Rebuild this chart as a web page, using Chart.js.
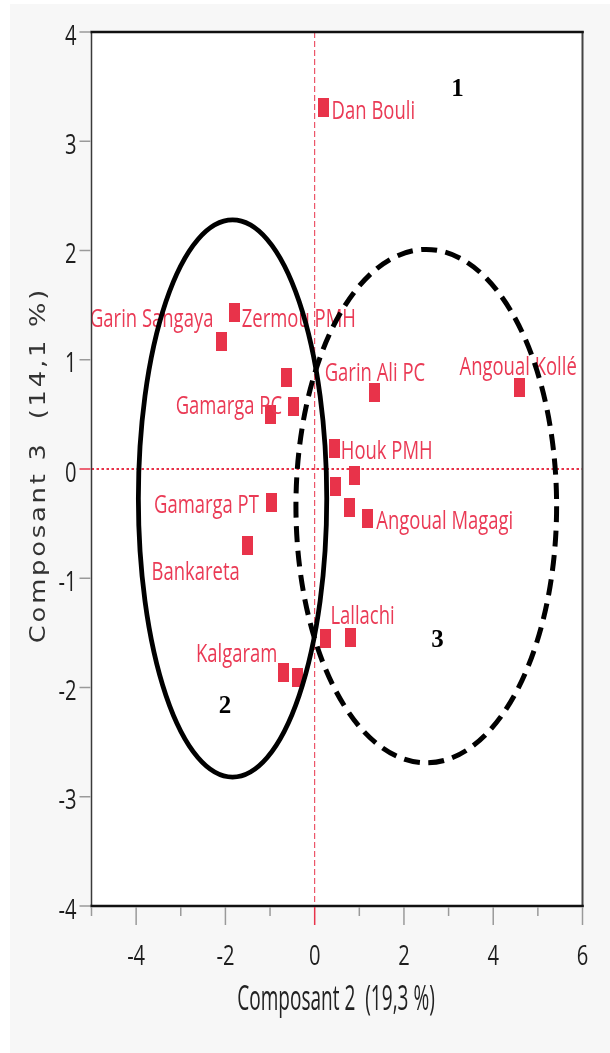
<!DOCTYPE html>
<html>
<head>
<meta charset="utf-8">
<script src="https://cdn.jsdelivr.net/npm/chart.js@4/dist/chart.umd.min.js"></script>
<style>
  html, body { margin: 0; padding: 0; background: #ffffff; }
  canvas { display: block; }
</style>
</head>
<body>
<canvas id="chart" width="610" height="1053"></canvas>
<script>
// Site scores on principal components 2 and 3
const sites = ['Dan Bouli', 'Garin Sangaya', 'Zermou PMH', '', '', 'Gamarga PC', 'Garin Ali PC',
  'Angoual Kollé', 'Houk PMH', '', '', '', 'Angoual Magagi', 'Gamarga PT', 'Bankareta',
  'Lallachi', '', 'Kalgaram', ''];
const comp2 = [0.20, -2.09, -1.79, -0.64, -0.48, -1.00, 1.35, 4.58, 0.45, 0.89, 0.47, 0.78, 1.19,
  -0.97, -1.51, 0.24, 0.80, -0.69, -0.39];
const comp3 = [3.31, 1.17, 1.43, 0.84, 0.57, 0.50, 0.70, 0.75, 0.19, -0.06, -0.16, -0.35, -0.45,
  -0.31, -0.70, -1.55, -1.54, -1.86, -1.91];

// Axis ticks
const xTickLabels = [-4, -2, 0, 2, 4, 6];
const xMinorTicks = [-5, -3, -1, 1, 3, 5];
const yTickLabels = [-4, -3, -2, -1, 0, 1, 2, 3, 4];
const xTitle = 'Composant 2  (19,3 %)';
const yTitle = 'Composant 3  (14,1 %)';

// Groups: ellipse centres and semi-axes (component units) and group numbers
const groupIds = ['1', '2', '3'];
const groupX = [3.20, -2.01, 2.75];
const groupY = [3.41, -2.23, -1.63];
const ellipseCx = [-1.84, 2.50];
const ellipseCy = [-0.27, -0.34];
const ellipseRx = [2.11, 2.92];
const ellipseRy = [2.55, 2.35];

// Drawing styles
const RED = '#e8334a';
const LABEL_RED = '#ea3a55';
const ellipseDash = [[], [16, 8.5]];
const ellipseWidth = [4.8, 5];
// label anchor: [textAlign, dx from marker, baseline dy from marker] in px
const labelAnchor = {
  'Dan Bouli': ['left', 8, 11.5],
  'Garin Sangaya': ['right', -8, -14],
  'Zermou PMH': ['left', 7, 14.5],
  'Gamarga PC': ['right', 12, 0],
  'Garin Ali PC': ['center', 0, -11.5],
  'Angoual Kollé': ['center', -1, -12],
  'Houk PMH': ['left', 6, 11],
  'Angoual Magagi': ['left', 8.5, 10.5],
  'Gamarga PT': ['right', -12.5, 10.3],
  'Bankareta': ['right', -7.5, 35],
  'Lallachi': ['left', 5, -14.5],
  'Kalgaram': ['right', -6.5, -10]
};

// Tall rectangular marker
const marker = document.createElement('canvas');
marker.width = 11; marker.height = 19;
(function () {
  const m = marker.getContext('2d');
  m.fillStyle = RED;
  m.fillRect(0, 0, 11, 19);
})();

function drawText(ctx, str, x, y, o) {
  ctx.save();
  ctx.translate(x, y);
  if (o.rot) ctx.rotate(o.rot);
  ctx.scale(o.sx || 1, o.sy || 1);
  ctx.font = o.font;
  ctx.fillStyle = o.color;
  ctx.textAlign = o.align || 'left';
  ctx.textBaseline = o.baseline || 'alphabetic';
  if (o.spacing) ctx.letterSpacing = o.spacing + 'px';
  ctx.fillText(str, 0, 0);
  ctx.restore();
}

const frame = {
  id: 'frame',
  beforeDraw(chart) {
    const { ctx, chartArea: a } = chart;
    ctx.save();
    ctx.fillStyle = '#ffffff';
    ctx.fillRect(0, 0, chart.width, chart.height);
    ctx.fillStyle = '#f7f7f7';
    ctx.fillRect(10, 4, chart.width - 10, chart.height - 4);
    ctx.fillStyle = '#ffffff';
    ctx.fillRect(a.left, a.top, a.right - a.left, a.bottom - a.top);

    const xs = chart.scales.x, ys = chart.scales.y;
    const x0 = xs.getPixelForValue(0), y0 = ys.getPixelForValue(0);
    // zero reference lines
    ctx.strokeStyle = RED;
    ctx.lineWidth = 1;
    ctx.setLineDash([6, 3]);
    ctx.beginPath();
    ctx.moveTo(x0, a.top); ctx.lineTo(x0, a.bottom);
    ctx.stroke();
    ctx.lineWidth = 2;
    ctx.setLineDash([2.5, 2.5]);
    ctx.beginPath();
    ctx.moveTo(a.left, y0); ctx.lineTo(a.right, y0);
    ctx.stroke();
    ctx.restore();
  },
  afterDatasetsDraw(chart) {
    const { ctx, chartArea: a } = chart;
    const xs = chart.scales.x, ys = chart.scales.y;
    ctx.save();

    // site names
    sites.forEach((name, i) => {
      if (!name) return;
      const [align, dx, dy] = labelAnchor[name];
      const px = xs.getPixelForValue(comp2[i]);
      const py = ys.getPixelForValue(comp3[i]);
      drawText(ctx, name, px + dx, py + dy,
        { font: '26px "Open Sans"', color: LABEL_RED, align, sx: 0.71 });
    });

    // group ellipses
    ctx.strokeStyle = '#000000';
    ellipseCx.forEach((cx, i) => {
      const px = xs.getPixelForValue(cx);
      const py = ys.getPixelForValue(ellipseCy[i]);
      const rx = Math.abs(xs.getPixelForValue(cx + ellipseRx[i]) - px);
      const ry = Math.abs(ys.getPixelForValue(ellipseCy[i] + ellipseRy[i]) - py);
      ctx.lineWidth = ellipseWidth[i];
      ctx.setLineDash(ellipseDash[i]);
      ctx.beginPath();
      ctx.ellipse(px, py, rx, ry, 0, 0, Math.PI * 2);
      ctx.stroke();
    });
    ctx.setLineDash([]);

    // group numbers
    groupIds.forEach((g, i) => {
      drawText(ctx, g, xs.getPixelForValue(groupX[i]), ys.getPixelForValue(groupY[i]),
        { font: 'bold 25px "Liberation Serif"', color: '#000000', align: 'center' });
    });

    // plot frame
    ctx.lineCap = 'square';
    ctx.strokeStyle = '#3a3a3a';
    ctx.lineWidth = 1.5;
    ctx.beginPath(); ctx.moveTo(a.left, a.top); ctx.lineTo(a.left, a.bottom); ctx.stroke();
    ctx.strokeStyle = '#444444';
    ctx.lineWidth = 2;
    ctx.beginPath(); ctx.moveTo(a.right, a.top); ctx.lineTo(a.right, a.bottom); ctx.stroke();
    ctx.strokeStyle = '#111111';
    ctx.lineWidth = 2.5;
    ctx.beginPath(); ctx.moveTo(a.left, a.top); ctx.lineTo(a.right, a.top); ctx.stroke();
    ctx.beginPath(); ctx.moveTo(a.left, a.bottom); ctx.lineTo(a.right, a.bottom); ctx.stroke();
    ctx.lineCap = 'butt';

    // tick marks
    ctx.lineWidth = 1.5;
    yTickLabels.forEach(v => {
      const py = ys.getPixelForValue(v);
      ctx.strokeStyle = v === 0 ? RED : '#9a9a9a';
      ctx.beginPath(); ctx.moveTo(a.left - 12, py); ctx.lineTo(a.left - 1, py); ctx.stroke();
    });
    xTickLabels.forEach(v => {
      const px = xs.getPixelForValue(v);
      ctx.strokeStyle = v === 0 ? RED : '#9a9a9a';
      ctx.beginPath(); ctx.moveTo(px, a.bottom + 1); ctx.lineTo(px, a.bottom + 19); ctx.stroke();
    });
    xMinorTicks.forEach(v => {
      const px = xs.getPixelForValue(v);
      ctx.strokeStyle = '#9a9a9a';
      ctx.beginPath(); ctx.moveTo(px, a.bottom + 1); ctx.lineTo(px, a.bottom + 10); ctx.stroke();
    });

    // tick labels
    yTickLabels.forEach(v => {
      drawText(ctx, String(v), a.left - 15, ys.getPixelForValue(v) + 12.5,
        { font: '28px "Open Sans"', color: '#1e1e1e', align: 'right', sx: 0.72 });
    });
    xTickLabels.forEach(v => {
      drawText(ctx, String(v), xs.getPixelForValue(v), a.bottom + 59,
        { font: '28px "Open Sans"', color: '#1e1e1e', align: 'center', sx: 0.72 });
    });

    // axis titles
    drawText(ctx, xTitle, (a.left + a.right) / 2 - 1, a.bottom + 104,
      { font: '34px "Open Sans"', color: '#222222', align: 'center', sx: 0.56 });
    drawText(ctx, yTitle, 45, (a.top + a.bottom) / 2 - 4,
      { font: '22px "DejaVu Sans"', color: '#333333', align: 'center', rot: -Math.PI / 2, sx: 1.17, spacing: 2.4 });

    ctx.restore();
  }
};

new Chart(document.getElementById('chart'), {
  type: 'scatter',
  data: {
    datasets: [{
      data: comp2.map((x, i) => ({ x, y: comp3[i] })),
      pointStyle: marker,
      pointRadius: 6,
      pointHoverRadius: 6,
      backgroundColor: RED,
      borderWidth: 0
    }]
  },
  options: {
    responsive: false,
    animation: false,
    devicePixelRatio: 1,
    layout: { padding: { left: 91.5, right: 27.5, top: 32, bottom: 147 } },
    plugins: { legend: { display: false }, tooltip: { enabled: false } },
    scales: {
      x: { type: 'linear', min: -5, max: 6, display: false },
      y: { type: 'linear', min: -4, max: 4, display: false }
    }
  },
  plugins: [frame]
});
</script>
</body>
</html>
